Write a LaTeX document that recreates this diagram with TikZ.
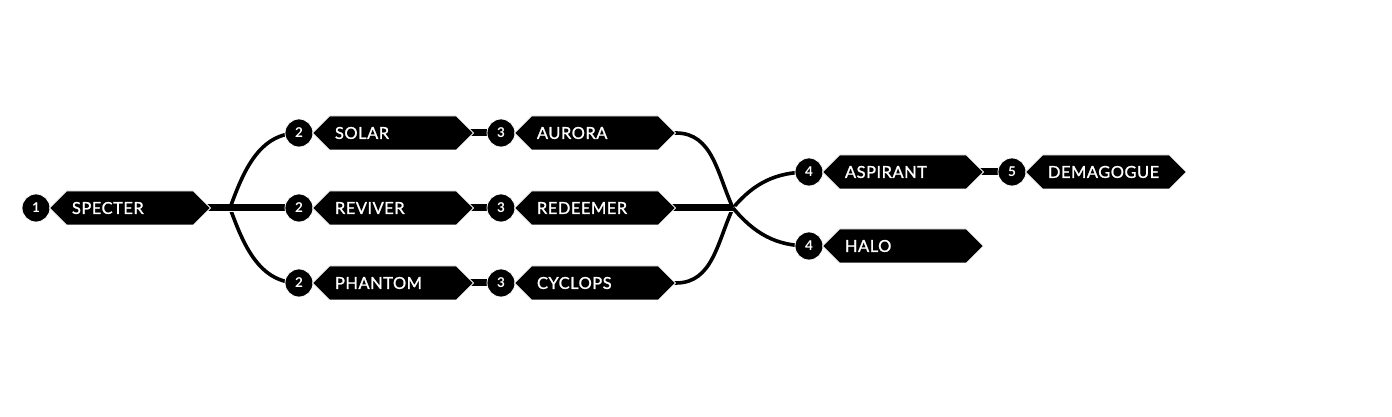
\documentclass[tikz,border=0pt]{standalone}
\usepackage{fontspec}
\setmainfont{Lato}
\newfontfamily\tagfont{Lato}[FakeBold=1.2, LetterSpace=3]
\usetikzlibrary{backgrounds, positioning, shapes.symbols}
\tikzset{
  tag/.style  = {signal, signal to=west and east, signal pointer angle=90,
                 fill=black, draw=white, line width=0.8pt, text=white,
                 minimum height=34pt, text width=116pt, inner xsep=5.5pt,
                 inner ysep=0pt, align=left,
                 font=\tagfont\fontsize{16.5}{16.5}\selectfont},
  num/.style  = {circle, fill=black, draw=white, line width=0.8pt,
                 minimum size=28pt, inner sep=0pt, text=white,
                 font=\bfseries\fontsize{13.5}{13.5}\selectfont},
  % thin branches and thick trunks, both with a white edge
  link/.style  = {draw=white, double=black, double distance=3.6pt,
                  line width=0.9pt},
  trunk/.style = {draw=white, double=black, double distance=7pt,
                  line width=0.9pt},
}
\begin{document}
\begin{tikzpicture}[x=1pt, y=1pt]
  \useasboundingbox (0,0) rectangle (1392,417);

  %% ---------------- joints ----------------
  \coordinate (split) at (230,209);
  \coordinate (merge) at (733,209);

  %% ---------------- first step ----------------
  \node[num] (n1) at (36,209) {1};
  \node[tag, right=-1.5pt of n1] (specter) {SPECTER};

  %% ---------------- three middle rows ----------------
  \node[num] (n2a) at (299,284) {2};
  \node[num] (n2b) at (299,209) {2};
  \node[num] (n2c) at (299,134) {2};
  \node[tag, right=-1.5pt of n2a] (solar) {SOLAR};
  \node[tag, right=-1.5pt of n2b] (reviver) {REVIVER};
  \node[tag, right=-1.5pt of n2c] (phantom) {PHANTOM};

  \node[num] (n3a) at (501,284) {3};
  \node[num] (n3b) at (501,209) {3};
  \node[num] (n3c) at (501,134) {3};
  \node[tag, right=-1.5pt of n3a] (aurora) {AURORA};
  \node[tag, right=-1.5pt of n3b] (redeemer) {REDEEMER};
  \node[tag, right=-1.5pt of n3c] (cyclops) {CYCLOPS};

  %% ---------------- last rows ----------------
  \node[num] (n4a) at (809,245) {4};
  \node[num] (n4b) at (809,171) {4};
  \node[tag, right=-1.5pt of n4a] (aspirant) {ASPIRANT};
  \node[tag, right=-1.5pt of n4b] (halo) {HALO};

  \node[num] (n5) at (1012,245) {5};
  \node[tag, right=-1.5pt of n5] (demagogue) {DEMAGOGUE};

  %% ---------------- connectors, behind the nodes ----------------
  \begin{scope}[on background layer]
    \fill[white] (0,0) rectangle (1392,417);
    \draw[link] (split) to[out=70, in=180] (n2a.center);
    \draw[link] (split) to[out=-70, in=180] (n2c.center);
    \draw[link] (aurora.center) -- (aurora.east)
                to[out=0, in=115] (merge);
    \draw[link] (cyclops.center) -- (cyclops.east)
                to[out=0, in=-115] (merge);
    \draw[link] (merge) to[out=50, in=180] (n4a.center);
    \draw[link] (merge) to[out=-50, in=180] (n4b.center);
    \draw[trunk] (specter.center) -- (split) -- (n2b.center);
    \draw[trunk] (redeemer.center) -- (merge);
    \draw[trunk] (solar.center) -- (n3a.center);
    \draw[trunk] (reviver.center) -- (n3b.center);
    \draw[trunk] (phantom.center) -- (n3c.center);
    \draw[trunk] (aspirant.center) -- (n5.center);
  \end{scope}

\end{tikzpicture}
\end{document}
